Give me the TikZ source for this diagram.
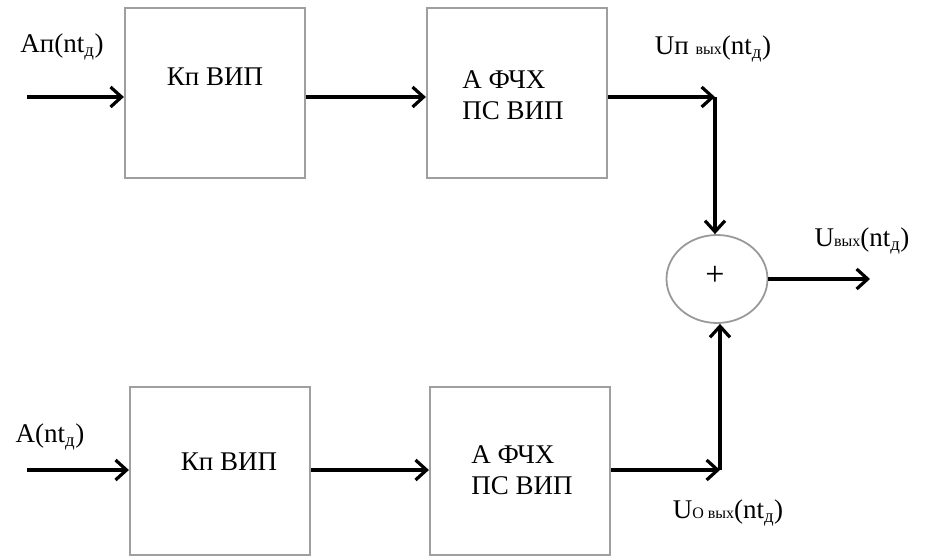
\documentclass[tikz,border=0pt]{standalone}
\usepackage{fontspec}
\setmainfont{Liberation Serif}
\usepackage{tikz}
\usetikzlibrary{positioning}
\usetikzlibrary{arrows.meta}
\usetikzlibrary{shapes.geometric}

% small lowered index letters
\newcommand{\idx}[1]{\textsubscript{#1}}
\newcommand{\lo}[1]{{\fontsize{16}{16}\selectfont #1}}

\begin{document}
\begin{tikzpicture}[x=1pt,y=-1pt,>={Straight Barb[length=11pt,width=20pt]},
  line width=3.2pt,
  block/.style={draw=gray!75,line width=2.2pt,minimum width=180pt,minimum height=170pt,
    inner sep=0pt,fill=white},
  sumnode/.style={ellipse,draw=gray!80,line width=1.8pt,minimum width=101pt,minimum height=88pt,inner sep=0pt},
  label text/.style={font=\fontsize{27}{31}\selectfont,text=black,inner sep=0pt}]

  \useasboundingbox (0,0) rectangle (946,559);

  % upper channel
  \node[block] (k1) at (215,93) {};
  \node[block] (a1) at (517,93) {};
  \node[label text] at (215,77) {Кп ВИП};
  \node[label text,align=left] at (513,95) {А ФЧХ\\ПС ВИП};
  \coordinate (in1) at (27,97);

  % lower channel
  \node[block,minimum height=168pt] (k2) at (220,471) {};
  \node[block,minimum height=168pt] (a2) at (520,471) {};
  \node[label text] at (229,462) {Кп ВИП};
  \node[label text,align=left] at (522,470) {А ФЧХ\\ПС ВИП};
  \coordinate (in2) at (27,470);

  % summator
  \node[sumnode] (sum) at (717,279) {};
  \node[font=\fontsize{34}{34}\selectfont,inner sep=0pt] at (715,276) {+};
  \coordinate (c1) at (715,97);
  \coordinate (c2) at (720,470);
  \coordinate (out) at (870,279);

  % signal labels
  \node[label text] (ap) at (62,47) {Aп(nt\idx{д})};
  \node[label text] (ao) at (50,437) {A(nt\idx{д})};
  \node[label text] (up) at (713,49) {Uп \lo{вых}(nt\idx{д})};
  \node[label text] (uo) at (728,513) {U\lo{О вых}(nt\idx{д})};
  \node[label text] (uv) at (862,241) {U\lo{вых}(nt\idx{д})};

  \draw[->] (in1) -- (k1.west |- in1);
  \draw[->] (k1.east |- in1) -- (a1.west |- in1);
  \draw[->] (a1.east |- c1) -- (c1);
  \draw[->] (c1) -- (sum.north -| c1);

  \draw[->] (in2) -- (k2.west |- in2);
  \draw[->] (k2.east |- in2) -- (a2.west |- in2);
  \draw[->] (a2.east |- c2) -- (c2);
  \draw[->] (c2) -- (sum.south -| c2);

  \draw[->] (sum.east) -- (out);
\end{tikzpicture}
\end{document}
